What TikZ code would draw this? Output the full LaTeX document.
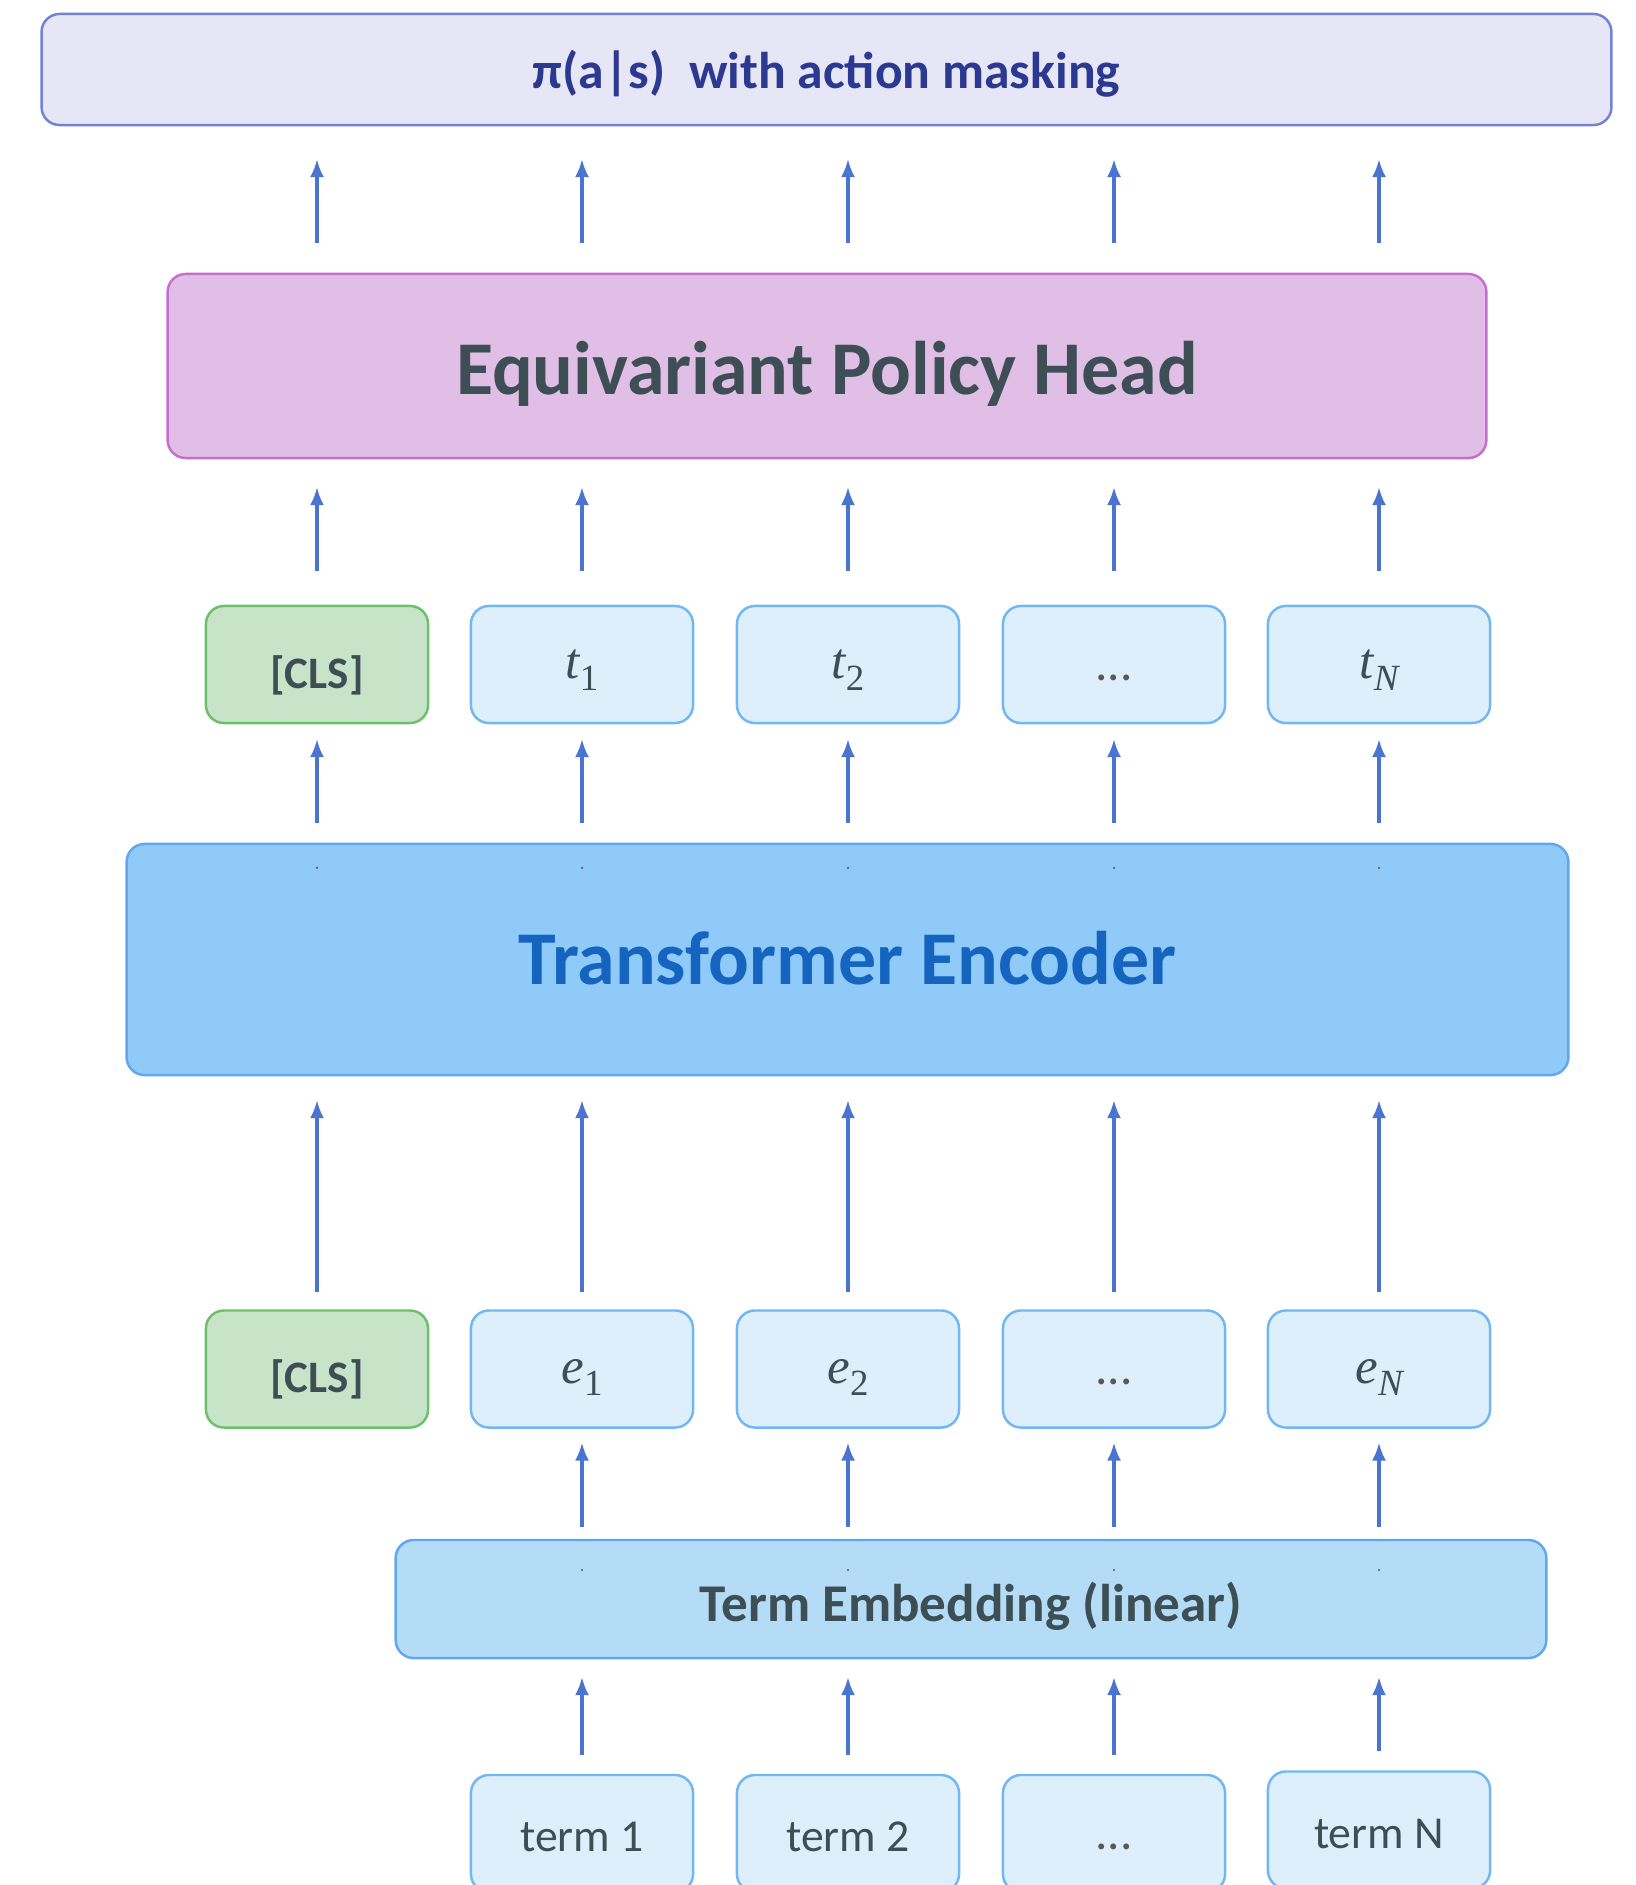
\documentclass[tikz,border=0pt]{standalone}
\usepackage{amsmath}
\usepackage{fontspec}
\setmainfont{Carlito}
\newfontfamily\serifit{Liberation Serif}
\usepackage{tikz}
\usetikzlibrary{arrows.meta,positioning,calc}

\definecolor{arrblue}{HTML}{4A74D0}
\definecolor{topfill}{HTML}{E6E6F6}
\definecolor{topdraw}{HTML}{7382D2}
\definecolor{toptext}{HTML}{2B3990}
\definecolor{headfill}{HTML}{E1BEE5}
\definecolor{headdraw}{HTML}{C86DD0}
\definecolor{darktext}{HTML}{3D4F55}
\definecolor{encfill}{HTML}{90CAF9}
\definecolor{encdraw}{HTML}{5FA8F0}
\definecolor{enctext}{HTML}{1565C0}
\definecolor{tokfill}{HTML}{DDEFFA}
\definecolor{tokdraw}{HTML}{72B6F4}
\definecolor{clsfill}{HTML}{C8E4C8}
\definecolor{clsdraw}{HTML}{6CC06C}
\definecolor{embfill}{HTML}{B5DCF6}
\definecolor{dotgray}{HTML}{5E5852}

% token symbol with a low subscript
\newcommand{\tsym}[2]{{\serifit\itshape #1}\raisebox{-3.4pt}{\serifit\fontsize{10.5}{12}\selectfont #2}}

\tikzset{
    box/.style={rounded corners=1.8mm, line width=0.7pt, inner sep=0pt, outer sep=0pt},
    tokbox/.style={box, fill=tokfill, draw=tokdraw, minimum width=2.22cm, minimum height=1.17cm},
    clsbox/.style={box, fill=clsfill, draw=clsdraw, minimum width=2.22cm, minimum height=1.17cm,
        text=darktext, font=\bfseries\fontsize{12.8}{14}\selectfont, text height=13.6pt, text depth=0pt},
    symbox/.style={tokbox, text=darktext, font=\fontsize{14.5}{16}\selectfont, text height=8pt, text depth=0pt},
    dotbox/.style={tokbox, text=dotgray, font=\fontsize{14}{16}\selectfont, text height=9pt, text depth=0pt},
    termbox/.style={tokbox, text=darktext, font=\fontsize{13}{15}\selectfont, text height=10.4pt, text depth=0pt},
    up/.style={draw=arrblue, line width=0.9pt, -{Latex[length=1.8mm,width=1.4mm]}}
}

\begin{document}
\begin{tikzpicture}[x=0.01cm, y=-0.01cm]
    \useasboundingbox (0,0) rectangle (1635,1885);
    \clip (0,0) rectangle (1635,1885);

    % output
    \node[box, fill=topfill, draw=topdraw, minimum width=15.69cm, minimum height=1.11cm,
        text=toptext, font=\bfseries\fontsize{14.7}{16}\selectfont,
        text height=11pt, text depth=0pt] (pol) at (826.5,69.5)
        {π(a|s)\ \ with action masking};

    % policy head
    \node[box, fill=headfill, draw=headdraw, minimum width=13.18cm, minimum height=1.84cm,
        text=darktext, font=\bfseries\fontsize{21.6}{24}\selectfont,
        text height=16pt, text depth=0pt] (head) at (827,366)
        {Equivariant Policy Head};

    % output tokens
    \node[clsbox] (tok1) at (317,664.5) {[CLS]};
    \node[symbox] (tok2) at (582,664.5) {\tsym{t}{1}};
    \node[symbox] (tok3) at (848,664.5) {\tsym{t}{2}};
    \node[dotbox] (tok4) at (1114,664.5) {...};
    \node[symbox] (tok5) at (1379,664.5) {\tsym{t}{\itshape N}};

    % encoder
    \node[box, fill=encfill, draw=encdraw, minimum width=14.41cm, minimum height=2.31cm,
        text=enctext, font=\bfseries\fontsize{21.6}{25}\selectfont,
        text height=14pt, text depth=0pt] (enc) at (847.5,959.5)
        {Transformer Encoder};

    % embedded tokens
    \node[clsbox] (emb1) at (317,1369) {[CLS]};
    \node[symbox] (emb2) at (582,1369) {\tsym{e}{1}};
    \node[symbox] (emb3) at (848,1369) {\tsym{e}{2}};
    \node[dotbox] (emb4) at (1114,1369) {...};
    \node[symbox] (emb5) at (1379,1369) {\tsym{e}{\itshape N}};

    % term embedding
    \node[box, fill=embfill, draw=encdraw, minimum width=11.5cm, minimum height=1.18cm,
        text=darktext, font=\bfseries\fontsize{15.1}{17}\selectfont,
        text height=13pt, text depth=0pt] (temb) at (971,1599)
        {Term Embedding (linear)};

    % input terms
    \node[termbox] (term2) at (582,1833.5) {term 1};
    \node[termbox] (term3) at (848,1833.5) {term 2};
    \node[dotbox] (term4) at (1114,1833.5) {...};
    \node[termbox] (term5) at (1379,1830) {term N};

    % small marks
    \foreach \i in {1,...,5}
        \fill[dotgray] (tok\i |- enc.north) ++(0,24) circle (1.2);
    \foreach \i in {2,...,5}
        \fill[dotgray] (tok\i |- temb.north) ++(0,30) circle (1.2);

    % arrows
    \foreach \i in {1,...,5} {
        \draw[up, shorten <=3.1mm, shorten >=3.4mm] (tok\i |- head.north) -- (tok\i |- pol.south);
        \draw[up, shorten <=3.5mm, shorten >=2.9mm] (tok\i.north) -- (tok\i |- head.south);
        \draw[up, shorten <=2.1mm, shorten >=1.6mm] (tok\i |- enc.north) -- (tok\i.south);
        \draw[up, shorten <=1.8mm, shorten >=2.5mm] (emb\i.north) -- (emb\i |- enc.south);
    }
    \foreach \i in {2,...,5} {
        \draw[up, shorten <=1.3mm, shorten >=1.5mm] (emb\i |- temb.north) -- (emb\i.south);
        \draw[up, shorten <=2.0mm, shorten >=1.9mm] (term\i.north) -- (term\i |- temb.south);
    }

\end{tikzpicture}
\end{document}
